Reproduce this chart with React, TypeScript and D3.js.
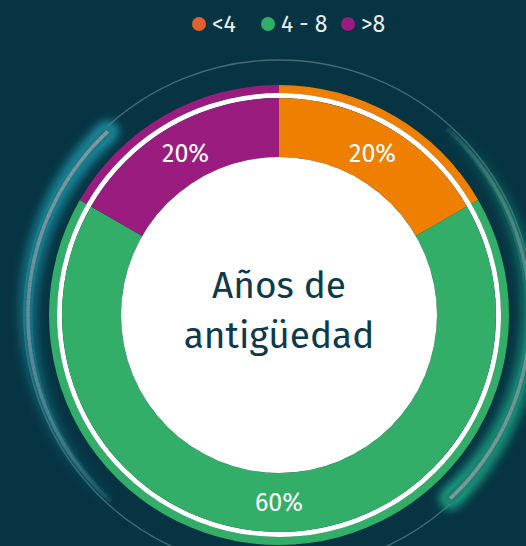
import React from "react";
import * as d3 from "d3";

// ---- data ----
const categories = ["<4", "4 - 8", ">8"];
const sliceWeights = [1, 4, 1]; // angular share as drawn in the picture
const sliceLabels = ["20%", "60%", "20%"];
const arcColors = ["#EF7F00", "#32AE69", "#9B1C7F"];
const legendColors = ["#E3602E", "#2EAE66", "#9A1B82"];
const centerTitle = ["Años de", "antigüedad"];

const W = 526;
const H = 546;
const BG = "#073442";
const cx = 279;
const cy = 315;
const rInner = 158;
const rSeg = 217;
const rGap = 222;
const rOuter = 230;
const rLabel = 187;
const rDeco = 255;

function arcPath(r: number, a0: number, a1: number) {
  const p = d3.path();
  p.arc(0, 0, r, a0 - Math.PI / 2, a1 - Math.PI / 2, a1 < a0);
  return p.toString();
}

function Comet({ head, tail, color, glowColor, id }: { head: number; tail: number; color: string; glowColor: string; id: string }) {
  const N = 70;
  const segs = d3.range(N).map((i) => {
    const a0 = head - (i / N) * tail;
    const a1 = head - ((i + 1) / N) * tail;
    const t = i / N;
    return { a0, a1, t };
  });
  const r = rDeco - 4;
  return (
    <g>
      <g filter={`url(#${id})`}>
        {segs.map((s, i) => (
          <path key={"g" + i} d={arcPath(r, s.a0, s.a1)} fill="none" stroke={glowColor}
            strokeWidth={22 - 8 * s.t} strokeOpacity={0.9 * Math.pow(1 - s.t, 0.8)} strokeLinecap={i === 0 ? "round" : "butt"} />
        ))}
      </g>
      {segs.map((s, i) => (
        <path key={"b" + i} d={arcPath(r, s.a0, s.a1)} fill="none" stroke={color}
          strokeWidth={11 - 4 * s.t} strokeOpacity={Math.pow(1 - s.t, 0.5)} strokeLinecap={i === 0 ? "round" : "butt"} />
      ))}
      {segs.map((s, i) => (
        <path key={"c" + i} d={arcPath(r, s.a0, s.a1)} fill="none" stroke="#83989f"
          strokeWidth={3.5} strokeOpacity={Math.pow(1 - s.t, 0.5)} />
      ))}
    </g>
  );
}

export default function App() {
  const pie = d3.pie<number>().sort(null).value((d) => d);
  const slices = pie(sliceWeights);
  const segArc = d3.arc<d3.PieArcDatum<number>>().innerRadius(rInner).outerRadius(rSeg);
  const ringArc = d3.arc<d3.PieArcDatum<number>>().innerRadius(rGap).outerRadius(rOuter);
  const labelArc = d3.arc<d3.PieArcDatum<number>>().innerRadius(rLabel).outerRadius(rLabel);

  const legendX = [199, 268, 348];
  const deg = Math.PI / 180;

  return (
    <svg width={W} height={H} style={{ position: "absolute", left: 0, top: 0, background: BG }}>
      <defs>
        <filter id="glowL" x="-50%" y="-50%" width="200%" height="200%">
          <feGaussianBlur stdDeviation="5" />
        </filter>
        <filter id="glowR" x="-50%" y="-50%" width="200%" height="200%">
          <feGaussianBlur stdDeviation="5" />
        </filter>
      </defs>
      <rect width={W} height={H} fill={BG} />

      {/* legend */}
      <g fontFamily="'Fira Sans','Noto Sans',sans-serif" fontSize={23} fill="#E9EFF1">
        {categories.map((c, i) => (
          <g key={c} transform={`translate(${legendX[i]},24)`}>
            <circle r={7} fill={legendColors[i]} />
            <text x={13} dy="0.36em">{c}</text>
          </g>
        ))}
      </g>

      <g transform={`translate(${cx},${cy})`}>
        {/* decorative thin circle */}
        <circle r={rDeco} fill="none" stroke="#5d7c87" strokeOpacity={0.75} strokeWidth={1.3} />
        {/* comets */}
        <Comet id="glowL" head={-43 * deg} tail={95 * deg} color="#1A7A8A" glowColor="#1d97ad" />
        <Comet id="glowR" head={137 * deg} tail={95 * deg} color="#1A8470" glowColor="#1dab8a" />

        {/* outer thin ring */}
        {slices.map((s, i) => (
          <path key={"r" + i} d={ringArc(s) || ""} fill={arcColors[i]} />
        ))}
        {/* white gap */}
        <circle r={(rSeg + rGap) / 2} fill="none" stroke="#ffffff" strokeWidth={rGap - rSeg} />
        {/* main segments */}
        {slices.map((s, i) => (
          <path key={"s" + i} d={segArc(s) || ""} fill={arcColors[i]} />
        ))}
        {/* center disk */}
        <circle r={rInner} fill="#ffffff" />

        {/* labels */}
        <g fontFamily="'Fira Sans','Noto Sans',sans-serif" fontSize={25} fill="#ffffff" textAnchor="middle">
          {slices.map((s, i) => {
            const [x, y] = labelArc.centroid(s);
            return (
              <text key={"l" + i} x={x} y={y} dy="0.36em">{sliceLabels[i]}</text>
            );
          })}
        </g>

        {/* center title */}
        <g fontFamily="'Fira Sans','Noto Sans',sans-serif" fontSize={37} fill="#0B3A4B" textAnchor="middle">
          <text x={0} y={-17}>{centerTitle[0]}</text>
          <text x={0} y={33}>{centerTitle[1]}</text>
        </g>
      </g>
    </svg>
  );
}
